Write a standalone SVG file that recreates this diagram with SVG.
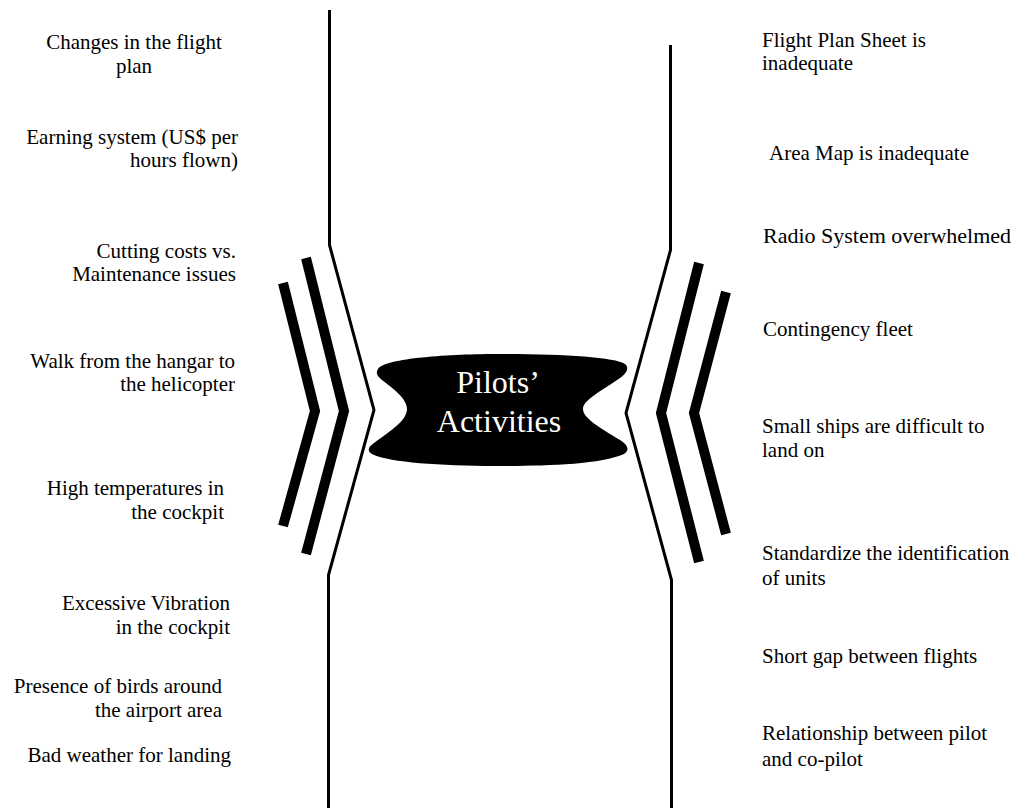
<svg xmlns="http://www.w3.org/2000/svg" width="1016" height="811" viewBox="0 0 1016 811">
  <style>
    .t { font-family: "Liberation Serif", "Times New Roman", serif; font-size: 21px; fill: #000; }
    .end { text-anchor: end; }
    .mid { text-anchor: middle; }
    .center { font-family: "Liberation Serif", "Times New Roman", serif; font-size: 32px; fill: #fff; text-anchor: middle; }
    .thin { fill: none; stroke: #000; stroke-width: 3; stroke-linejoin: miter; stroke-miterlimit: 10; }
    .chev { fill: none; stroke: #000; stroke-width: 10; stroke-linejoin: miter; stroke-miterlimit: 10; stroke-linecap: butt; }
  </style>
  <rect width="1016" height="811" fill="#fff"/>

  <g id="connectors">
    <polyline class="thin" points="329.5,10 329.5,245 374,410 328.5,575 328.5,808"/>
    <polyline class="thin" points="670.5,45 670.5,250 626,413 671.5,580 671.5,808"/>
    <polyline class="chev" points="283,283 315,411 283,526"/>
    <polyline class="chev" points="306,258 344,411 306,554"/>
    <polyline class="chev" points="699,263 661,413 699,562"/>
    <polyline class="chev" points="726,292 694,413 726,534"/>
  </g>

  <g id="pilots-activities">
    <path fill="#000" d="M 378 369 C 385 358, 450 354, 500 354 C 560 354, 615 357, 625 364 C 630 368, 626 374, 620 378 C 600 392, 583 400, 583 409 C 583 418, 600 428, 620 440 C 628 445, 630 450, 624 454 C 600 465, 540 466, 495 466 C 440 466, 390 462, 374 455 C 366 452, 368 447, 374 443 C 392 430, 407 420, 407 409 C 407 398, 392 388, 382 380 C 376 375, 376 372, 378 369 Z"/>
    <text class="center" x="498" y="393">Pilots’</text>
    <text class="center" x="499" y="432">Activities</text>
  </g>

  <g id="left-1"><text class="t mid" x="134" y="49">Changes in the flight</text><text class="t mid" x="134" y="73">plan</text></g>
  <g id="left-2"><text class="t end" x="238" y="144">Earning system (US$ per</text><text class="t end" x="238" y="167">hours flown)</text></g>
  <g id="left-3"><text class="t end" x="236" y="258">Cutting costs vs.</text><text class="t end" x="236" y="281">Maintenance issues</text></g>
  <g id="left-4"><text class="t end" x="235" y="368">Walk from the hangar to</text><text class="t end" x="235" y="391">the helicopter</text></g>
  <g id="left-5"><text class="t end" x="224" y="495">High temperatures in</text><text class="t end" x="224" y="519">the cockpit</text></g>
  <g id="left-6"><text class="t end" x="230" y="610">Excessive Vibration</text><text class="t end" x="230" y="634">in the cockpit</text></g>
  <g id="left-7"><text class="t end" x="222" y="693">Presence of birds around</text><text class="t end" x="222" y="717">the airport area</text></g>
  <g id="left-8"><text class="t end" x="231" y="762">Bad weather for landing</text></g>

  <g id="right-1"><text class="t" x="762" y="47">Flight Plan Sheet is</text><text class="t" x="762" y="70">inadequate</text></g>
  <g id="right-2"><text class="t" x="769" y="160">Area Map is inadequate</text></g>
  <g id="right-3"><text class="t" x="763" y="243" style="font-size:22px">Radio System overwhelmed</text></g>
  <g id="right-4"><text class="t" x="763" y="336">Contingency fleet</text></g>
  <g id="right-5"><text class="t" x="762" y="433">Small ships are difficult to</text><text class="t" x="762" y="457">land on</text></g>
  <g id="right-6"><text class="t" x="762" y="560">Standardize the identification</text><text class="t" x="762" y="585">of units</text></g>
  <g id="right-7"><text class="t" x="762" y="663">Short gap between flights</text></g>
  <g id="right-8"><text class="t" x="762" y="740">Relationship between pilot</text><text class="t" x="762" y="766">and co-pilot</text></g>
</svg>
